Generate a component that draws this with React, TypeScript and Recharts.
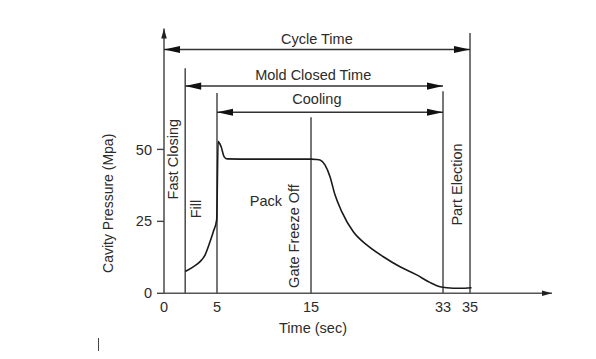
import React from "react"
import { Label, Line, LineChart, ReferenceDot, ReferenceLine, XAxis, YAxis } from "recharts"

// cavity pressure trace (time in s, pressure in MPa)
const TIME = [2, 2.76, 3.4, 3.87, 4.34, 4.65, 4.97, 5.12, 5.44, 5.75, 6.07, 9, 12, 15, 15.7, 16.23, 16.9, 17.59, 18.27, 19.19, 20.77, 22.6, 24.86, 27.14, 29.41, 31.2, 32.6, 33.27, 34.26, 35.13]
const PRESSURE = [7.6, 9.2, 11.0, 13.3, 17.9, 21.4, 25.5, 52.7, 50.9, 47.5, 46.7, 46.6, 46.6, 46.6, 46.5, 46.3, 44.6, 40.5, 34.2, 28.4, 21.4, 16.8, 12.7, 9.2, 6.4, 3.8, 2.3, 1.95, 1.75, 1.95]

const X_TICKS = [0, 5, 15, 33, 35]
const Y_TICKS = [0, 25, 50]
const X_MAX = 42
const Y_MAX = 92

// event markers: vertical lines and how high they reach
const EVENT_TIMES = [2, 5, 15, 33, 35]
const EVENT_TOPS = [78.2, 69.6, 61.2, 70.2, 90.4]

// double arrows across the top
const SPAN_LABELS = ["Cycle Time", "Mold Closed Time", "Cooling"]
const SPAN_STARTS = [0, 2, 5]
const SPAN_ENDS = [35, 33, 33]
const SPAN_LEVELS = [84.7, 72.0, 62.9]
const SPAN_LABEL_TIMES = [15.8, 15.3, 15.8]
const SPAN_LABEL_LEVELS = [88.4, 75.9, 67.5]

// phase notes written inside the plot
const NOTE_TEXTS = ["Fast Closing", "Fill", "Pack", "Gate Freeze Off", "Part Election"]
const NOTE_TIMES = [0.85, 3.0, 10.2, 13.2, 34.07]
const NOTE_LEVELS = [46.6, 29.3, 32.1, 19.9, 37.8]
const NOTE_VERTICAL = [true, true, false, true, true]

const data = TIME.map((t, i) => ({ t, p: PRESSURE[i] }))

const FONT = '"Liberation Sans", Arial, Helvetica, sans-serif'
const TEXT = "#2b2b2b"

// the printed time axis is not to scale, every gap between labelled times has its own length
const SCALE_TIMES = [0, 5, 15, 33, 35, X_MAX]
const SCALE_SHARE = [0, 0.1366, 0.3789, 0.7191, 0.7887, 1]

function brokenTimeScale(): any {
  let dom: number[] = [0, X_MAX]
  let rng: number[] = [0, 1]
  const share = (v: number) => {
    let i = 1
    while (i < SCALE_TIMES.length - 1 && v > SCALE_TIMES[i]) i++
    const t0 = SCALE_TIMES[i - 1]
    const t1 = SCALE_TIMES[i]
    return SCALE_SHARE[i - 1] + ((v - t0) / (t1 - t0)) * (SCALE_SHARE[i] - SCALE_SHARE[i - 1])
  }
  const scale: any = (v: number) => rng[0] + share(Number(v)) * (rng[rng.length - 1] - rng[0])
  scale.domain = (d?: number[]) => {
    if (d === undefined) return dom.slice()
    dom = d.slice()
    return scale
  }
  scale.range = (r?: number[]) => {
    if (r === undefined) return rng.slice()
    rng = r.slice()
    return scale
  }
  scale.copy = () => brokenTimeScale().domain(dom).range(rng)
  scale.ticks = () => X_TICKS
  scale.tickFormat = () => (v: number) => String(v)
  scale.invert = (px: number) => {
    const s = (px - rng[0]) / (rng[rng.length - 1] - rng[0])
    let i = 1
    while (i < SCALE_SHARE.length - 1 && s > SCALE_SHARE[i]) i++
    const s0 = SCALE_SHARE[i - 1]
    const s1 = SCALE_SHARE[i]
    return SCALE_TIMES[i - 1] + ((s - s0) / (s1 - s0)) * (SCALE_TIMES[i] - SCALE_TIMES[i - 1])
  }
  return scale
}

const timeScale = brokenTimeScale()

function head(tx: number, ty: number, dx: number, dy: number, len: number, half: number, fill: string) {
  const bx = tx - dx * len
  const by = ty - dy * len
  const pts = `${tx},${ty} ${bx - dy * half},${by + dx * half} ${bx + dy * half},${by - dx * half}`
  return <polygon points={pts} fill={fill} />
}

function unit(x1: number, y1: number, x2: number, y2: number) {
  const d = Math.hypot(x2 - x1, y2 - y1) || 1
  return [(x2 - x1) / d, (y2 - y1) / d]
}

function DoubleArrow(props: any) {
  const { x1, y1, x2, y2 } = props
  const [ux, uy] = unit(x1, y1, x2, y2)
  return (
    <g>
      <line x1={x1} y1={y1} x2={x2} y2={y2} stroke="#333" strokeWidth={1.4} />
      {head(x1, y1, -ux, -uy, 16, 3.6, "#111")}
      {head(x2, y2, ux, uy, 16, 3.6, "#111")}
    </g>
  )
}

function AxisArrow(props: any) {
  const { x1, y1, x2, y2 } = props
  const [ux, uy] = unit(x1, y1, x2, y2)
  return (
    <g>
      <line x1={x1} y1={y1} x2={x2} y2={y2} stroke="#555" strokeWidth={1.6} />
      {head(x2, y2, ux, uy, 10, 2.8, "#222")}
    </g>
  )
}

function EventLine(props: any) {
  const { x1, y1, x2, y2 } = props
  return <line x1={x1} y1={y1} x2={x2} y2={y2} stroke="#4a4a4a" strokeWidth={1.5} />
}

function makeNote(text: string, vertical: boolean) {
  return (props: any) => {
    const { cx, cy } = props
    return (
      <text
        x={cx}
        y={cy}
        textAnchor="middle"
        dominantBaseline="central"
        transform={vertical ? `rotate(-90 ${cx} ${cy})` : undefined}
        fill={TEXT}
        fontSize={14.5}
        fontFamily={FONT}
      >
        {text}
      </text>
    )
  }
}

function YTitle(props: any) {
  const { x, y, height } = props.viewBox
  const cx = x + 4
  const cy = y + height - 90
  return (
    <text x={cx} y={cy} textAnchor="middle" dominantBaseline="central" transform={`rotate(-90 ${cx} ${cy})`} fill={TEXT} fontSize={14} fontFamily={FONT}>
      Cavity Pressure (Mpa)
    </text>
  )
}

function XTitle(props: any) {
  const { x, y } = props.viewBox
  return (
    <text x={x + 149} y={y + 35} textAnchor="middle" dominantBaseline="central" fill={TEXT} fontSize={14.5} fontFamily={FONT}>
      Time (sec)
    </text>
  )
}

export default function App() {
  return (
    <div style={{ position: "relative", width: 596, height: 359, background: "#fff" }}>
      <style>{"body{margin:0}"}</style>
      <LineChart width={596} height={359} data={data} margin={{ top: 28.5, right: 44, bottom: 25.7, left: 104 }} style={{ fontFamily: FONT }}>
        <XAxis
          dataKey="t"
          type="number"
          scale={timeScale}
          domain={[0, X_MAX]}
          ticks={X_TICKS}
          interval={0}
          axisLine={false}
          tickLine={false}
          tickSize={0}
          tickMargin={8}
          height={40}
          tick={{ fill: TEXT, fontSize: 14.5 }}
        >
          <Label content={XTitle} />
        </XAxis>
        <YAxis
          type="number"
          domain={[0, Y_MAX]}
          ticks={Y_TICKS}
          interval={0}
          axisLine={false}
          tickLine={{ stroke: "#444", strokeWidth: 1.4 }}
          tickSize={7}
          tickMargin={5}
          width={60}
          tick={{ fill: TEXT, fontSize: 14.5 }}
        >
          <Label content={YTitle} />
        </YAxis>

        <ReferenceLine segment={[{ x: 0, y: 0 }, { x: X_MAX, y: 0 }]} ifOverflow="visible" shape={AxisArrow} />
        <ReferenceLine segment={[{ x: 0, y: 0 }, { x: 0, y: Y_MAX }]} ifOverflow="visible" shape={AxisArrow} />

        {EVENT_TIMES.map((t, i) => (
          <ReferenceLine key={"ev" + i} segment={[{ x: t, y: 0 }, { x: t, y: EVENT_TOPS[i] }]} ifOverflow="visible" shape={EventLine} />
        ))}

        {SPAN_LABELS.map((name, i) => (
          <ReferenceLine
            key={"sp" + i}
            segment={[{ x: SPAN_STARTS[i], y: SPAN_LEVELS[i] }, { x: SPAN_ENDS[i], y: SPAN_LEVELS[i] }]}
            ifOverflow="visible"
            shape={DoubleArrow}
          />
        ))}
        {SPAN_LABELS.map((name, i) => (
          <ReferenceDot key={"spl" + i} x={SPAN_LABEL_TIMES[i]} y={SPAN_LABEL_LEVELS[i]} r={0} ifOverflow="visible" shape={makeNote(name, false)} />
        ))}

        {NOTE_TEXTS.map((text, i) => (
          <ReferenceDot key={"nt" + i} x={NOTE_TIMES[i]} y={NOTE_LEVELS[i]} r={0} ifOverflow="visible" shape={makeNote(text, NOTE_VERTICAL[i])} />
        ))}

        <Line dataKey="p" type="monotone" stroke="#1a1a1a" strokeWidth={1.6} dot={false} activeDot={false} isAnimationActive={false} />
      </LineChart>
      <div style={{ position: "absolute", left: 98, top: 338, width: 1, height: 13, background: "#444" }} />
    </div>
  )
}
